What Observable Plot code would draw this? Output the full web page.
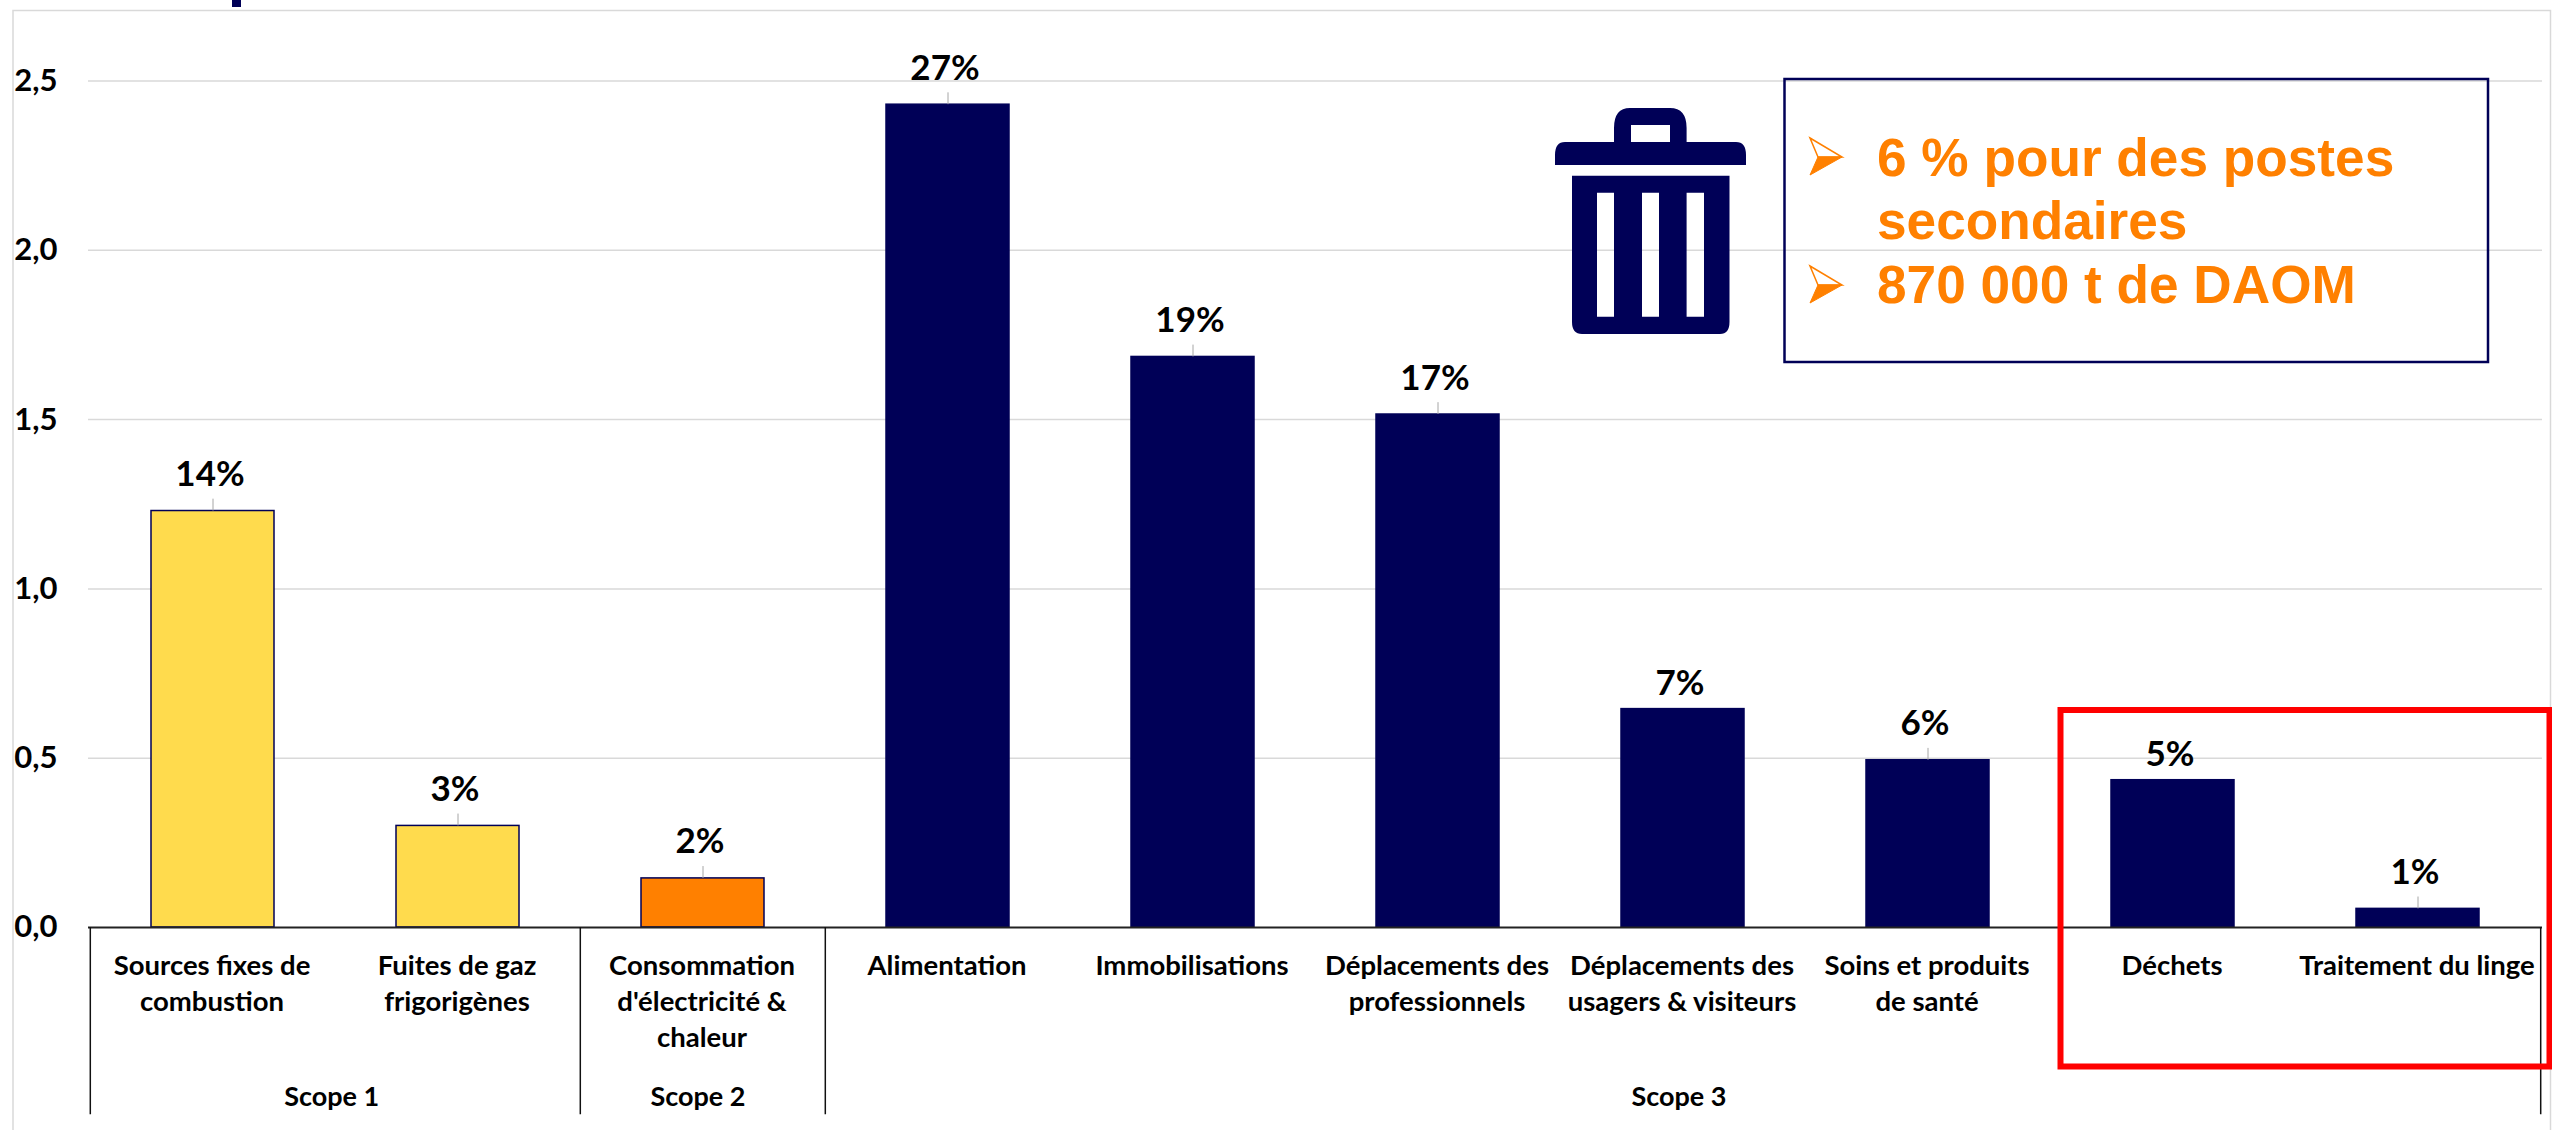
<!DOCTYPE html>
<html><head><meta charset="utf-8">
<script src="https://cdn.jsdelivr.net/npm/d3@7"></script>
<script src="https://cdn.jsdelivr.net/npm/@observablehq/plot@0.6"></script>
<style>
html,body{margin:0;padding:0;background:#fff;}
#wrap{position:relative;width:2552px;height:1130px;overflow:hidden;}
#wrap>svg.overlay{position:absolute;left:0;top:0;}
</style></head><body><div id="wrap"></div>
<script>
const categories = ["Sources fixes de\ncombustion","Fuites de gaz\nfrigorigènes","Consommation\nd'électricité &\nchaleur","Alimentation","Immobilisations","Déplacements des\nprofessionnels","Déplacements des\nusagers & visiteurs","Soins et produits\nde santé","Déchets","Traitement du linge"];
const values = [1.23,0.30,0.145,2.43,1.685,1.515,0.645,0.494,0.435,0.055];
const percents = ["14%","3%","2%","27%","19%","17%","7%","6%","5%","1%"];
const colors = ["#FFDB4D","#FFDB4D","#FF8000","#000057","#000057","#000057","#000057","#000057","#000057","#000057"];
const scopes = ["Scope 1","Scope 2","Scope 3"];
const yTicks = [0,0.5,1,1.5,2,2.5];
const tightLabels = ["7%","5%"];
const FONT = "Lato";
const NAVY = "#000057";
const ORANGE = "#FF8000";

const rows = categories.map((c,i)=>({c,v:values[i],p:percents[i],col:colors[i]}));
const W=2552,H=1130,ML=88,MR=10;
const step=(W-ML-MR)/categories.length;
const plot = Plot.plot({
  width:W,height:H,marginLeft:ML,marginRight:MR,marginTop:0,marginBottom:0,
  style:{fontFamily:FONT,background:"transparent",color:"#000"},
  x:{type:"band",domain:categories,paddingInner:0.5,paddingOuter:0.25,axis:null},
  y:{domain:[-0.5995,2.7377],range:[H,0],axis:null},
  marks:[
    Plot.ruleY(yTicks.filter(t=>t>0),{stroke:"#d9d9d9",strokeWidth:1.5}),
    Plot.barY(rows,{x:"c",y:"v",fill:"col",stroke:NAVY,strokeWidth:1.5}),
    Plot.ruleY([0],{stroke:"#222",strokeWidth:2}),
    Plot.ruleX(rows.filter(d=>!tightLabels.includes(d.p)),{x:"c",y1:"v",y2:d=>d.v+0.035,stroke:"#a6a6a6",strokeWidth:1}),
    Plot.text(rows.filter(d=>!tightLabels.includes(d.p)),{x:"c",y:"v",text:"p",dx:-3,dy:-25,lineAnchor:"bottom",fontSize:35,fontWeight:700,fill:"#000"}),
    Plot.text(rows.filter(d=>tightLabels.includes(d.p)),{x:"c",y:"v",text:"p",dx:-3,dy:-14,lineAnchor:"bottom",fontSize:35,fontWeight:700,fill:"#000"}),
    Plot.text(yTicks,{y:d=>d,text:d=>d.toFixed(1).replace(".",","),frameAnchor:"left",dx:-31,textAnchor:"end",fontSize:31,fontWeight:700,fill:"#000"}),
    Plot.text(rows,{x:"c",y:-0.118,text:"c",lineAnchor:"top",lineHeight:1.31,dy:-18,dx:-1,fontSize:27.5,fontWeight:700,fill:"#000"}),
    Plot.ruleX([categories[0],categories[2],categories[3]],{x:d=>d,y1:0,y2:-0.553,dx:-step/2,stroke:"#111",strokeWidth:1.5}),
    Plot.ruleX([categories[9]],{x:d=>d,y1:0,y2:-0.553,dx:step/2,stroke:"#111",strokeWidth:1.5}),
    Plot.text([scopes[0]],{x:()=>categories[0],y:-0.5,text:d=>d,dx:step/2-4,dy:1,fontSize:27,fontWeight:700,fill:"#000"}),
    Plot.text([scopes[1]],{x:()=>categories[2],y:-0.5,text:d=>d,dx:-5,dy:1,fontSize:27,fontWeight:700,fill:"#000"}),
    Plot.text([scopes[2]],{x:()=>categories[6],y:-0.5,text:d=>d,dx:-4,dy:1,fontSize:27,fontWeight:700,fill:"#000"})
  ]
});
const wrap=document.getElementById("wrap");
wrap.appendChild(plot);

// Decorations around the chart: page frame, bin icon, callout box, red highlight
const arrow=(x,y)=>`<polygon points="${x},${y} ${x+32},${y+19} ${x+8},${y+19}" fill="#fff" stroke="${ORANGE}" stroke-width="1.5"/><polygon points="${x+32},${y+19} ${x},${y+37} ${x+8},${y+19}" fill="${ORANGE}" stroke="${ORANGE}" stroke-width="1"/>`;
const overlay=`<svg class="overlay" width="2552" height="1130" xmlns="http://www.w3.org/2000/svg">
<path d="M13 1130V10.5H2550.5V1130" fill="none" stroke="#d9d9d9" stroke-width="1.5"/>
<rect x="232" y="0" width="9" height="7" fill="${NAVY}"/>
<g fill="${NAVY}">
<path fill-rule="evenodd" d="M1614 142V128Q1614 108 1630 108H1670Q1686.6 108 1686.6 128V142H1736Q1746 142 1746 155V165H1555V155Q1555 142 1565 142ZM1631 125V142H1670V125Z"/>
<path fill-rule="evenodd" d="M1572 175.7H1729.5V322Q1729.5 334 1720 334H1582Q1572 334 1572 322ZM1597 192.7V316.7H1614V192.7ZM1642 192.7V316.7H1659V192.7ZM1686.6 192.7V316.7H1704V192.7Z"/>
</g>
<rect x="1784.5" y="79" width="703.5" height="283" fill="none" stroke="${NAVY}" stroke-width="2.5"/>
${arrow(1810,138)}${arrow(1810,266)}
<g font-family="Liberation Sans" font-weight="700" font-size="53.2" fill="${ORANGE}">
<text x="1877" y="176">6 % pour des postes</text>
<text x="1877" y="239">secondaires</text>
<text x="1877" y="303">870 000 t de DAOM</text>
</g>
<path d="M2550 710H2060.5V1066.5H2552M2549.5 707V1069" fill="none" stroke="#FF0000" stroke-width="6"/>
</svg>`;
wrap.insertAdjacentHTML("beforeend",overlay);
</script></body></html>
